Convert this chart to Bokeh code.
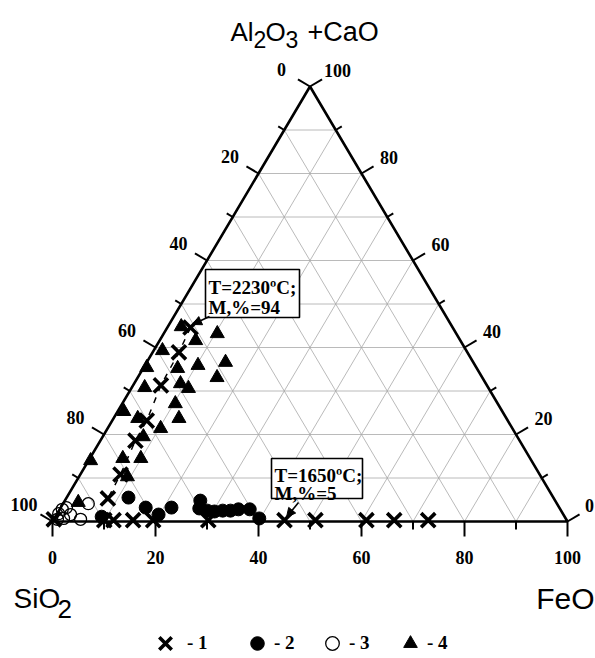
import math
from bokeh.plotting import figure
from bokeh.models import Range1d, Arrow, NormalHead, Legend, LegendItem
from bokeh.core.properties import value
from bokeh.embed import file_html
from bokeh.resources import INLINE

# ---------------- data (wt.%): Al2O3+CaO and FeO; SiO2 = 100 - both ----------------
s1_al  = [44.6, 38.9, 31.3, 23.2, 18.6, 10.8, 5.3, 0.5, 0.3, 0.3, 0.3, 0.3, 0.3, 0.3, 0.3, 0.3, 0.3, 0.3]
s1_feo = [4.5, 5.1, 5.4, 6.7, 6.8, 7.8, 8.1, 0.0, 9.9, 11.7, 15.5, 19.4, 30.1, 44.9, 50.9, 60.8, 66.2, 72.8]
trend_count = 7  # first points of series 1 joined by the dashed line

s2_al  = [5.5, 3.2, 1.6, 3.2, 4.8, 3.0, 2.5, 2.3, 2.5, 2.5, 2.8, 2.8, 0.7, 1.1]
s2_feo = [12.0, 16.5, 19.8, 21.5, 26.3, 27.0, 28.8, 30.3, 31.8, 33.3, 34.7, 36.9, 39.8, 9.0]

s3_al  = [4.1, 0.5, 1.8, 2.8, 3.2, 1.6, 0.7, 0.5]
s3_feo = [4.9, 5.2, 0.3, 0.5, 1.1, 2.7, 1.8, 0.7]

s4_al  = [44.8, 41.6, 43.2, 39.3, 35.4, 35.2, 35.9, 36.6, 33.1, 31.7, 30.8, 30.6, 27.1,
          25.3, 23.7, 23.7, 21.4, 19.5, 14.0, 14.5, 14.5, 10.3, 4.4]
s4_feo = [2.6, 7.0, 10.4, 1.7, 0.6, 6.7, 10.3, 15.3, 15.4, 9.0, 2.5, 11.1, 10.3,
          1.2, 4.7, 12.7, 10.3, 7.9, 0.4, 6.4, 9.9, 9.4, 2.8]

series_labels = ["- 1", "- 2", "- 3", "- 4"]
major_ticks = [0, 20, 40, 60, 80, 100]
minor_ticks = [10, 30, 50, 70, 90]
grid_levels = [10, 20, 30, 40, 50, 60, 70, 80, 90]
note_lines = [["T=2230ºC;", "M,%=94"], ["T=1650ºC;", "M,%=5"]]
note_target = [0, 13]  # index into series 1

# ---------------- geometry ----------------
W, H = 595, 658
SX, SY = 5.15, 4.35
OX, OY = 52.0, 521.0          # pixel position of the SiO2 corner
X0, X1 = -OX / SX, (W - OX) / SX
Y0, Y1 = (OY - H) / SY, OY / SY


def tern(al, feo):
    return feo + al / 2.0, al


def page(px, py):
    return X0 + px / SX, Y1 - py / SY


def off(dx, dy):
    return dx / SX, -dy / SY


p = figure(width=W, height=H, x_range=Range1d(X0, X1), y_range=Range1d(Y0, Y1),
           output_backend="svg", toolbar_location=None, min_border=0)
p.axis.visible = False
p.grid.visible = False
p.outline_line_color = None
p.background_fill_color = "white"

# grid
gx, gy = [], []
for k in grid_levels:
    a = tern(k, 0); b = tern(k, 100 - k)
    gx.append([a[0], b[0]]); gy.append([a[1], b[1]])
    a = tern(0, k); b = tern(100 - k, k)
    gx.append([a[0], b[0]]); gy.append([a[1], b[1]])
    a = tern(0, 100 - k); b = tern(100 - k, 0)
    gx.append([a[0], b[0]]); gy.append([a[1], b[1]])
p.multi_line(gx, gy, line_color="#a8a8a8", line_width=0.8)

# triangle
tx = [tern(0, 0)[0], tern(0, 100)[0], tern(100, 0)[0], tern(0, 0)[0]]
ty = [tern(0, 0)[1], tern(0, 100)[1], tern(100, 0)[1], tern(0, 0)[1]]
p.line(tx, ty, line_color="black", line_width=2.6)

# ticks and tick labels
NL = (-0.861, -0.509)
NR = (0.861, -0.509)
kx, ky = [], []
lab_x, lab_y, lab_t = [], [], []
for v, L in [(t, 14) for t in major_ticks] + [(t, 7) for t in minor_ticks]:
    px0, py0 = tern(100 - v, 0)
    d = off(NL[0] * L, NL[1] * L)
    kx.append([px0, px0 + d[0]]); ky.append([py0, py0 + d[1]])
    px0, py0 = tern(v, 100 - v)
    d = off(NR[0] * L, NR[1] * L)
    kx.append([px0, px0 + d[0]]); ky.append([py0, py0 + d[1]])
    px0, py0 = tern(0, v)
    d = off(0, L + 1)
    kx.append([px0, px0 + d[0]]); ky.append([py0, py0 + d[1]])
p.multi_line(kx, ky, line_color="black", line_width=2)

for v in major_ticks:
    px0, py0 = tern(100 - v, 0)
    d = off(NL[0] * 33, NL[1] * 33)
    lab_x.append(px0 + d[0]); lab_y.append(py0 + d[1]); lab_t.append(str(v))
    px0, py0 = tern(v, 100 - v)
    d = off(NR[0] * 32, NR[1] * 32)
    xx = min(px0 + d[0], page(589, 0)[0])
    lab_x.append(xx); lab_y.append(py0 + d[1]); lab_t.append(str(v))
    px0, py0 = tern(0, v)
    d = off(0, 36)
    lab_x.append(px0 + d[0]); lab_y.append(py0 + d[1]); lab_t.append(str(v))
p.text(lab_x, lab_y, text=lab_t, text_font=value("Liberation Serif"), text_font_style="bold",
       text_font_size="18px", text_align="center", text_baseline="middle", text_color="black")


def txt(px, py, s, size, align="left", font="Liberation Sans"):
    x, y = page(px, py)
    p.text([x], [y], text=[s], text_font=value(font), text_font_size=size,
           text_align=align, text_baseline="alphabetic", text_color="black")

txt(230, 31, "Al", "26px")
txt(253, 39, "2", "23px")
txt(265, 31, "O", "26px")
txt(285, 39, "3", "23px")
txt(307, 31, "+CaO", "27px")
txt(13, 598, "SiO", "28px")
txt(57, 608, "2", "26px")
txt(594, 598, "FeO", "30px", align="right")

# dashed trend line through series 1 upper branch
dl = [tern(a, f) for a, f in zip(s1_al[:trend_count], s1_feo[:trend_count])]
p.line([q[0] for q in dl], [q[1] for q in dl], line_color="black", line_width=1.5, line_dash="6 7")


def pts(al, feo):
    xy = [tern(a, f) for a, f in zip(al, feo)]
    return [q[0] for q in xy], [q[1] for q in xy]

x1, y1 = pts(s1_al, s1_feo)
x2, y2 = pts(s2_al, s2_feo)
x3, y3 = pts(s3_al, s3_feo)
x4, y4 = pts(s4_al, s4_feo)
r3 = p.scatter(x3, y3, marker="circle", size=12, fill_color="white", fill_alpha=0.0,
               line_color="black", line_width=1.3)
r4 = p.scatter(x4, y4, marker="triangle", size=14, fill_color="black", line_color="black")
r2 = p.scatter(x2, y2, marker="circle", size=13, fill_color="black", line_color="black")
r1 = p.scatter(x1, y1, marker="x", size=20, line_color="black", line_width=3.6)

# annotation boxes
boxes = [((205, 269, 299, 317), (208, 287, 307)), ((271, 458, 362, 498), (274, 475, 493))]
for (bx0, by0, bx1, by1), _ in boxes:
    l, t = page(bx0, by0); r, b = page(bx1, by1)
    p.quad(left=[l], right=[r], top=[t], bottom=[b], fill_color="white",
           line_color="black", line_width=1.6)
for i, lines in enumerate(note_lines):
    (bx0, by0, bx1, by1), (tx0, b1, b2) = boxes[i]
    for line, bl in zip(lines, (b1, b2)):
        x, y = page(tx0, bl)
        p.text([x], [y], text=[line], text_font=value("Liberation Serif"), text_font_style="bold",
               text_font_size="19px", text_align="left", text_baseline="alphabetic")
tails = [(209, 316), (298, 502)]
for i, k in enumerate(note_target):
    ex, ey = x1[k], y1[k]
    d = off(2, -3)
    sx0, sy0 = page(*tails[i])
    p.add_layout(Arrow(end=NormalHead(size=9, fill_color="black", line_color="black"),
                       x_start=sx0, y_start=sy0, x_end=ex + d[0], y_end=ey + d[1],
                       line_color="black", line_width=1.6))

# legend (one legend per item to match the spacing)
leg_cx = [165, 257, 332, 410]
leg_g = [44, 34, 34, 34]
leg_lx = [180, 272, 345, 423]
for rend, lab, cx, G, lx in zip([r1, r2, r3, r4], series_labels, leg_cx, leg_g, leg_lx):
    lg = Legend(items=[LegendItem(label=lab, renderers=[rend])],
                location=(int(cx - G / 2), int(H - 643 - G / 2)),
                orientation="horizontal", padding=0, margin=0, spacing=0,
                glyph_width=G, glyph_height=G, label_standoff=max(0, int(lx - (cx + G / 2))),
                label_text_font="Liberation Serif", label_text_font_style="bold",
                label_text_font_size="19px", label_text_baseline="middle",
                label_text_color="black",
                background_fill_alpha=0, border_line_alpha=0)
    p.add_layout(lg)

open("out.html", "w").write(file_html(p, INLINE))
